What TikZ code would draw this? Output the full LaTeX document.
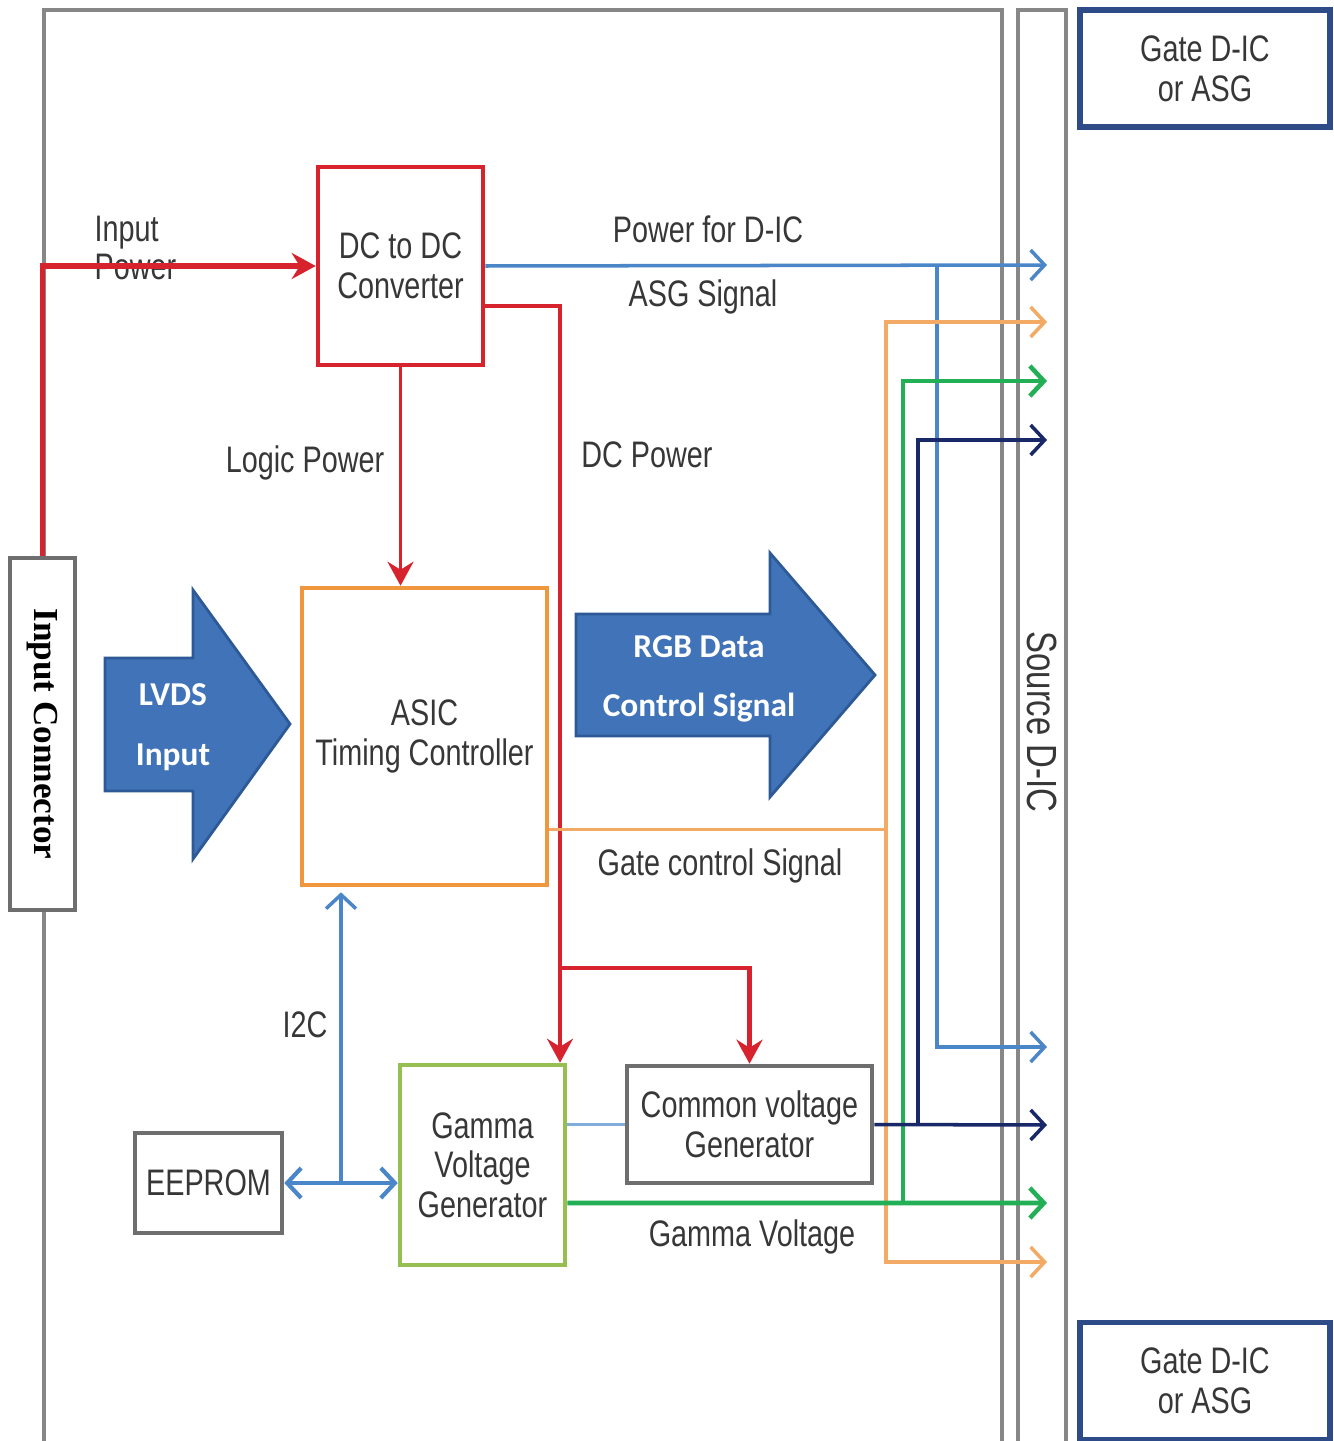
\documentclass[tikz,border=0pt]{standalone}
\usepackage{fontspec}
\setmainfont{Liberation Sans}[FakeStretch=0.78]
\newfontfamily\arrowfont{Carlito}
\newfontfamily\connfont{Liberation Serif}
\usetikzlibrary{arrows.meta, calc}

\definecolor{txtgray}{RGB}{55,55,55}
\definecolor{boxgray}{RGB}{110,110,110}
\definecolor{framegray}{RGB}{135,135,135}
\definecolor{pwred}{RGB}{215,35,45}
\definecolor{pwblue}{RGB}{75,135,200}
\definecolor{asgorange}{RGB}{242,170,100}
\definecolor{asicorange}{RGB}{240,150,60}
\definecolor{gmgreen}{RGB}{35,175,85}
\definecolor{gammaframe}{RGB}{150,190,80}
\definecolor{vcnavy}{RGB}{25,40,105}
\definecolor{gateblue}{RGB}{45,75,135}
\definecolor{arrowfill}{RGB}{65,115,185}
\definecolor{arrowedge}{RGB}{45,90,150}

\newcommand\boxfont{\fontsize{10.5}{11.3}\selectfont}

\begin{document}
\begin{tikzpicture}[
        box/.style={rectangle, draw=boxgray, line width=1.3pt, fill=white, align=center, text=txtgray, font=\boxfont, inner sep=0pt},
        lbl/.style={text=txtgray, font=\boxfont, align=center, inner sep=0pt},
        frame/.style={draw=framegray, line width=0.9pt},
        bigarrow/.style={fill=arrowfill, draw=arrowedge, line width=0.8pt},
        arrowtext/.style={text=white, font=\arrowfont\bfseries\fontsize{9.5}{17}\selectfont, align=center, inner sep=0pt},
        power/.style={draw=pwred, line width=1pt, -{Stealth[length=2.4mm,width=2.6mm,inset=0.8mm]}},
        bus/.style={line width=1pt, -{Straight Barb[length=1.4mm,width=3mm]}}
    ]

    \useasboundingbox (0,0) rectangle (13.33,-14.41);
    \fill[white] (0,0) rectangle (13.33,-14.41);

    % Board and source strip
    \draw[frame] (0.44,-14.41) |- (10.02,-0.10) -- (10.02,-14.41);
    \draw[frame] (10.18,-14.41) |- (10.66,-0.10) -- (10.66,-14.41);
    \node[lbl, rotate=-90, font=\fontsize{12}{14}\selectfont] (srclbl) at (10.42,-7.22) {Source D-IC};

    % Blocks
    \node[box, minimum width=0.65cm, minimum height=3.52cm] (conn) at (0.425,-7.34) {};
    \node[rotate=-90, text=black, font=\connfont\bfseries\fontsize{10}{12}\selectfont] (connlbl) at (conn.center) {Input Connector};
    \node[box, draw=pwred, minimum width=1.65cm, minimum height=1.98cm] (dcdc) at (4.005,-2.66) {DC to DC\\Converter};
    \node[box, draw=asicorange, minimum width=2.45cm, minimum height=2.97cm] (asic) at (4.245,-7.365) {ASIC\\Timing Controller};
    \node[box, draw=gammaframe, minimum width=1.65cm, minimum height=2.0cm] (gamma) at (4.825,-11.65) {Gamma\\Voltage\\Generator};
    \node[box, minimum width=2.45cm, minimum height=1.17cm] (vcom) at (7.495,-11.245) {Common voltage\\Generator};
    \node[box, minimum width=1.47cm, minimum height=1.0cm] (eeprom) at (2.085,-11.83) {EEPROM};
    \node[box, draw=gateblue, line width=1.6pt, minimum width=2.5cm, minimum height=1.17cm] (gatetop) at (12.05,-0.685) {Gate D-IC\\or ASG};
    \node[box, draw=gateblue, line width=1.6pt, minimum width=2.5cm, minimum height=1.17cm] (gatebot) at (12.05,-13.81) {Gate D-IC\\or ASG};

    % Big arrows
    \draw[bigarrow] (1.05,-6.58) -- (1.93,-6.58) -- (1.93,-5.90) -- (2.90,-7.24) -- (1.93,-8.59) -- (1.93,-7.91) -- (1.05,-7.91) -- cycle;
    \node[arrowtext] (lvds) at (1.73,-7.27) {LVDS\\Input};
    \draw[bigarrow] (5.76,-6.14) -- (7.70,-6.14) -- (7.70,-5.53) -- (8.75,-6.75) -- (7.70,-7.97) -- (7.70,-7.36) -- (5.76,-7.36) -- cycle;
    \node[arrowtext] (rgb) at (6.99,-6.79) {RGB Data\\Control Signal};

    % Inputs on the source strip
    \foreach \n/\y in {pw/-2.65, asg/-3.22, gm/-3.81, vc/-4.40, pwb/-10.47, vcb/-11.25, gmb/-12.03, asgb/-12.62}
        \coordinate (in-\n) at (10.47,\y);

    % Labels
    \node[lbl, align=left, anchor=west, font=\fontsize{10.5}{10.6}\selectfont] (inpwlbl) at (0.94,-2.48) {Input\\Power};
    \node[lbl] (pwlbl) at (7.08,-2.29) {Power for D-IC};
    \node[lbl] (asglbl) at (7.03,-2.97) {ASG Signal};
    \node[lbl] (logiclbl) at (3.05,-4.63) {Logic Power};
    \node[lbl] (dclbl) at (6.47,-4.55) {DC Power};
    \node[lbl] (gatelbl) at (7.20,-8.66) {Gate control Signal};
    \node[lbl] (i2clbl) at (3.05,-10.25) {I2C};
    \node[lbl] (gmlbl) at (7.52,-12.37) {Gamma Voltage};

    % Power
    \draw[power, line width=1.5pt] (conn.north) |- (dcdc.west);
    \draw[power] (dcdc.south) -- (dcdc.south |- asic.north);
    \coordinate (dcsplit) at (5.60,-9.68);
    \draw[power] ([yshift=-4mm]dcdc.east) -| (dcsplit) -- (dcsplit |- gamma.north);
    \draw[power, line width=1.4pt] (dcsplit) -| (vcom.north);

    % Signals to source D-IC
    \draw[bus, pwblue] (dcdc.east) -- (in-pw);
    \draw[bus, pwblue] ([xshift=-11mm]in-pw) |- (in-pwb);
    \draw[bus, asgorange] ([yshift=-9.3mm]asic.east) -| ([xshift=-16.1mm]in-asg) -- (in-asg);
    \draw[bus, asgorange] ([xshift=-16.1mm]in-asg) |- (in-asgb);
    \draw[bus, gmgreen, line width=1.3pt] ([yshift=-3.8mm]gamma.east) -- (in-gmb);
    \draw[bus, gmgreen, line width=1.3pt] ([xshift=-14.4mm]in-gmb) |- (in-gm);
    \draw[bus, vcnavy] (vcom.east) -- (in-vcb);
    \draw[bus, vcnavy] ([xshift=-12.9mm]in-vcb) |- (in-vc);
    \draw[pwblue!70, line width=0.9pt] (vcom.west) -- (vcom.west -| gamma.east);

    % I2C
    \coordinate (i2c) at ($(eeprom.east)!0.5!(eeprom.east -| gamma.west)$);
    \draw[bus, pwblue, line width=1.2pt, {Straight Barb[length=1.4mm,width=3mm]}-{Straight Barb[length=1.4mm,width=3mm]}] (eeprom.east) -- (eeprom.east -| gamma.west);
    \draw[bus, pwblue] (i2c) -- ([yshift=-0.5mm]i2c |- asic.south);

\end{tikzpicture}
\end{document}
